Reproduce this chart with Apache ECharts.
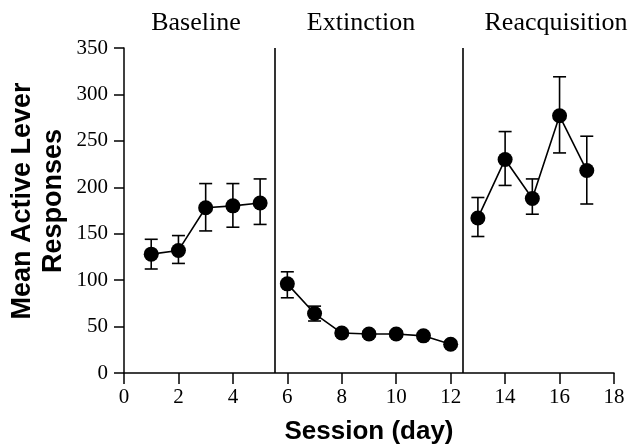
<!DOCTYPE html>
<html>
<head>
<meta charset="utf-8">
<script src="https://cdn.jsdelivr.net/npm/echarts@6/dist/echarts.min.js"></script>
<style>
  html, body { margin: 0; padding: 0; background: #fff; }
  #main { width: 634px; height: 448px; }
</style>
</head>
<body>
<div id="main"></div>
<script>
// sessions and mean responses, one array per phase
const baselineDays = [1, 2, 3, 4, 5];
const baselineMean = [128, 132, 178, 180, 183];
const baselineLow  = [112, 118, 153, 157, 160];
const baselineHigh = [144, 148, 204, 204, 209];

const extinctionDays = [6, 7, 8, 9, 10, 11, 12];
const extinctionMean = [96, 64, 43, 42, 42, 40, 31];
const extinctionLow  = [81, 56, 40, 39, 39, 37, 28];
const extinctionHigh = [109, 72, 46, 45, 45, 43, 34];

const reacqDays = [13, 14, 15, 16, 17];
const reacqMean = [167, 230, 188, 277, 218];
const reacqLow  = [147, 202, 171, 237, 182];
const reacqHigh = [189, 260, 209, 319, 255];

const phaseNames = ['Baseline', 'Extinction', 'Reacquisition'];
const phaseBreaks = [5.55, 12.45];

const serif = '"Liberation Serif", "DejaVu Serif", serif';
const sans = '"Liberation Sans", Arial, sans-serif';

function pairs(xs, ys) {
  return xs.map((x, i) => [x, ys[i]]);
}

const phases = [
  [baselineDays, baselineMean, baselineLow, baselineHigh],
  [extinctionDays, extinctionMean, extinctionLow, extinctionHigh],
  [reacqDays, reacqMean, reacqLow, reacqHigh]
];

const errData = [];
phases.forEach(p => {
  p[0].forEach((d, i) => errData.push([d, p[2][i], p[3][i]]));
});

const series = [];

series.push({
  type: 'custom',
  name: 'err',
  data: errData,
  encode: { x: 0, y: [1, 2] },
  z: 1,
  renderItem: function (params, api) {
    const x = api.value(0);
    const lo = api.coord([x, api.value(1)]);
    const hi = api.coord([x, api.value(2)]);
    const cap = 6.5;
    const style = { stroke: '#000', lineWidth: 1.6, fill: null };
    return {
      type: 'group',
      children: [
        { type: 'line', shape: { x1: lo[0], y1: lo[1], x2: hi[0], y2: hi[1] }, style: style },
        { type: 'line', shape: { x1: lo[0] - cap, y1: lo[1], x2: lo[0] + cap, y2: lo[1] }, style: style },
        { type: 'line', shape: { x1: hi[0] - cap, y1: hi[1], x2: hi[0] + cap, y2: hi[1] }, style: style }
      ]
    };
  }
});

phases.forEach((p, k) => {
  series.push({
    type: 'line',
    name: phaseNames[k],
    data: pairs(p[0], p[1]),
    symbol: 'circle',
    symbolSize: 15,
    z: 3,
    lineStyle: { color: '#000', width: 1.6 },
    itemStyle: { color: '#000' },
    emphasis: { disabled: true },
    markLine: k === 0 ? {
      silent: true,
      symbol: 'none',
      label: { show: false },
      lineStyle: { color: '#000', width: 1.6, type: 'solid' },
      data: phaseBreaks.map(b => ({ xAxis: b }))
    } : undefined
  });
});

const chart = echarts.init(document.getElementById('main'));
chart.setOption({
  animation: false,
  backgroundColor: '#fff',
  grid: { left: 124, right: 20, top: 48, bottom: 75, outerBoundsMode: 'none' },
  xAxis: {
    type: 'value',
    min: 0,
    max: 18,
    interval: 2,
    name: 'Session (day)',
    nameLocation: 'middle',
    nameGap: 46,
    nameTextStyle: { fontFamily: sans, fontWeight: 'bold', fontSize: 26, color: '#000' },
    axisLine: { lineStyle: { color: '#000', width: 1.5 } },
    axisTick: { length: 11, lineStyle: { color: '#000', width: 1.5 } },
    axisLabel: { fontFamily: serif, fontSize: 21, color: '#000', margin: 14 },
    splitLine: { show: false }
  },
  yAxis: {
    type: 'value',
    min: 0,
    max: 350,
    interval: 50,
    axisLine: { show: true, lineStyle: { color: '#000', width: 1.5 } },
    axisTick: { show: true, length: 10, lineStyle: { color: '#000', width: 1.5 } },
    axisLabel: { fontFamily: serif, fontSize: 21, color: '#000', margin: 16 },
    splitLine: { show: false }
  },
  graphic: [
    { type: 'text', x: 196, y: 23, style: { text: phaseNames[0], font: '26px ' + serif, fill: '#000', align: 'center', verticalAlign: 'middle' } },
    { type: 'text', x: 361, y: 23, style: { text: phaseNames[1], font: '26px ' + serif, fill: '#000', align: 'center', verticalAlign: 'middle' } },
    { type: 'text', x: 556, y: 23, style: { text: phaseNames[2], font: '26px ' + serif, fill: '#000', align: 'center', verticalAlign: 'middle' } },
    {
      type: 'text', x: 38.5, y: 201, rotation: Math.PI / 2,
      style: {
        text: 'Mean Active Lever\nResponses',
        font: 'bold 27px ' + sans, fill: '#000',
        align: 'center', verticalAlign: 'middle', lineHeight: 31
      }
    }
  ],
  series: series
});
</script>
</body>
</html>
